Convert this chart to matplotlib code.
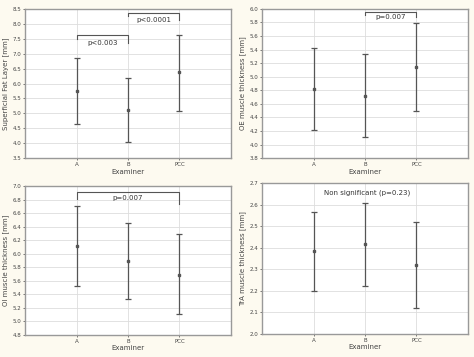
import matplotlib.pyplot as plt

examiners = ['A', 'B', 'PCC']

# top-left: superficial fat layer
sfl_mean = [5.75, 5.10, 6.37]
sfl_low = [4.65, 4.05, 5.08]
sfl_high = [6.87, 6.17, 7.63]

# top-right: OE muscle thickness
oe_mean = [4.82, 4.72, 5.14]
oe_low = [4.22, 4.11, 4.49]
oe_high = [5.42, 5.34, 5.79]

# bottom-left: OI muscle thickness
oi_mean = [6.11, 5.89, 5.69]
oi_low = [5.52, 5.33, 5.11]
oi_high = [6.70, 6.45, 6.29]

# bottom-right: TrA muscle thickness
tra_mean = [2.385, 2.415, 2.32]
tra_low = [2.20, 2.22, 2.12]
tra_high = [2.565, 2.61, 2.52]

BG = '#fdfaf0'
GRAY = '#555555'

fig = plt.figure(figsize=(4.74, 3.57), dpi=100, facecolor=BG)

panels = [
    ([0.053, 0.557, 0.434, 0.418], sfl_mean, sfl_low, sfl_high, (3.5, 8.5), 0.5,
     'Superficial Fat Layer [mm]', '%.1f'),
    ([0.553, 0.557, 0.434, 0.418], oe_mean, oe_low, oe_high, (3.8, 6.0), 0.2,
     'OE muscle thickness [mm]', '%.1f'),
    ([0.053, 0.062, 0.434, 0.417], oi_mean, oi_low, oi_high, (4.8, 7.0), 0.2,
     'OI muscle thickness [mm]', '%.1f'),
    ([0.553, 0.065, 0.434, 0.422], tra_mean, tra_low, tra_high, (2.0, 2.7), 0.1,
     'TrA muscle thickness [mm]', '%.1f'),
]

axes = []
for rect, m, lo, hi, ylim, step, ylabel, fmt in panels:
    ax = fig.add_axes(rect)
    ax.set_facecolor('white')
    x = list(range(len(examiners)))
    yerr = [[mi - l for mi, l in zip(m, lo)], [h - mi for mi, h in zip(m, hi)]]
    ax.errorbar(x, m, yerr=yerr, fmt='s', ms=2, color=GRAY, ecolor=GRAY,
                elinewidth=0.9, capsize=2.5, capthick=0.9)
    ax.set_xlim(-1, 3)
    ax.set_ylim(*ylim)
    n = int(round((ylim[1] - ylim[0]) / step))
    ax.set_yticks([ylim[0] + i * step for i in range(n + 1)])
    ax.yaxis.set_major_formatter(plt.FormatStrFormatter(fmt))
    ax.set_xticks(x)
    ax.set_xticklabels(examiners)
    ax.grid(True, color='#dddddd', linewidth=0.6)
    ax.set_axisbelow(True)
    ax.tick_params(labelsize=4, length=1.5, width=0.5, colors='#444444', pad=1.5)
    ax.set_ylabel(ylabel, fontsize=5, color='#444444', labelpad=2)
    ax.set_xlabel('Examiner', fontsize=5, color='#444444', labelpad=1)
    for s in ax.spines.values():
        s.set_color('#999999')
        s.set_linewidth(1.0)
    axes.append(ax)


def bracket(ax, x0, x1, y, d0, d1, text, ty):
    ax.plot([x0, x0, x1, x1], [y - d0, y, y, y - d1], color=GRAY, lw=0.8)
    ax.text((x0 + x1) / 2, ty, text, ha='center', va='center', fontsize=5,
            color='#333333')


bracket(axes[0], 0, 1, 7.62, 0.12, 0.25, 'p<0.003', 7.35)
bracket(axes[0], 1, 2, 8.38, 0.12, 0.25, 'p<0.0001', 8.12)
bracket(axes[1], 1, 2, 5.96, 0.05, 0.08, 'p=0.007', 5.88)
bracket(axes[2], 0, 2, 6.91, 0.1, 0.17, 'p=0.007', 6.83)
axes[3].text(1.05, 2.655, 'Non significant (p=0.23)', ha='center', va='center',
             fontsize=5, color='#333333')

fig.savefig('out.png', dpi=100, facecolor=BG)
